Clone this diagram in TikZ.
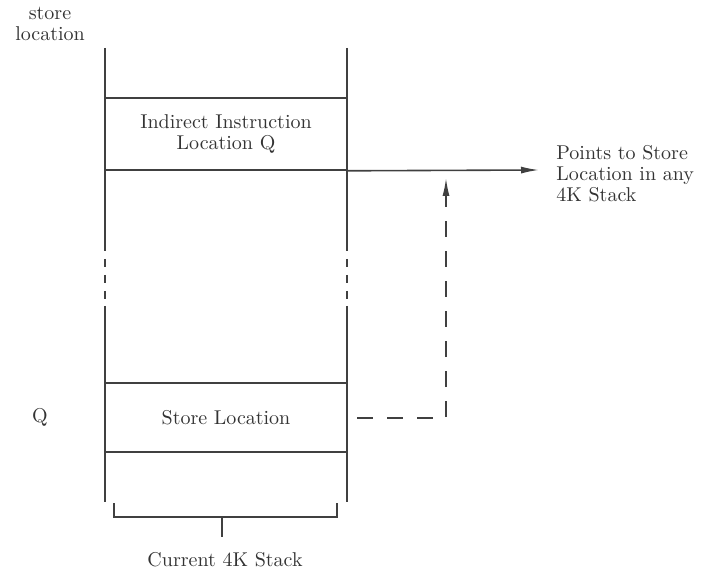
\documentclass[tikz,border=0pt]{standalone}
\usetikzlibrary{arrows.meta,calc}
\tikzset{
  wall/.style={line width=.8pt,draw=black!75},
  cell/.style={wall,minimum width=121pt,inner sep=0pt},
  lbl/.style={font=\fontsize{10}{10.5}\selectfont,text=black!80,align=center,inner sep=0pt},
  linkdash/.style={wall,dash pattern=on 8pt off 7pt},
  ptr/.style={-{Latex[length=9pt,width=3.5pt]}},
}

\begin{document}
\begin{tikzpicture}[x=.5pt,y=-.5pt]
  \useasboundingbox (0,0) rectangle (723,572);
  % walls of the stack, broken in the middle
  \foreach \x in {105,347} {
    \draw[wall] (\x,48)--(\x,243);
    \draw[wall,dash pattern=on 4pt off 4pt] (\x,243)--(\x,306);
    \draw[wall] (\x,306)--(\x,502);
  }
  \node[cell,draw,minimum height=36pt] (ind) at (226,134) {};
  \node[lbl] at (ind) {Indirect Instruction\\Location Q};
  \node[cell,draw,minimum height=34.5pt] (sto) at (226,417.5) {};
  \node[lbl] at (sto) {Store Location};
  \node[lbl] (sl) at (50,24) {store\\location};
  \node[lbl] (q) at (40,417) {Q};
  \node[lbl,align=left,anchor=west] (pts) at (556,174)
    {Points to Store\\Location in any\\4K Stack};
  \node[lbl] (cur) at (225,560) {Current 4K Stack};
  % pointer out of Q
  \coordinate (tip) at (539,170);
  \draw[wall,ptr] (ind.south east) -- (tip);
  % link back from store location
  \coordinate (s0) at (357,418);
  \coordinate (up) at (446,178);
  \draw[linkdash] (s0) -| ($(up)+(0,12)$);
  \draw[wall,ptr] ($(up)+(0,14)$) -- (up);
  % bracket under the stack
  \draw[wall] (114,503)--(114,517)--(337,517)--(337,503);
  \draw[wall] (222,517)--(222,537);
\end{tikzpicture}
\end{document}
